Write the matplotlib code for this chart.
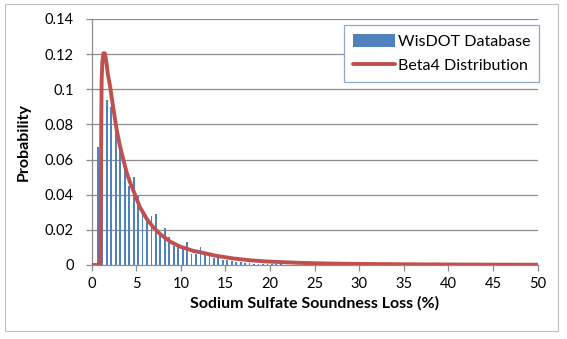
#!/usr/bin/env python

import matplotlib
matplotlib.use('Agg')
import matplotlib.pyplot as plt
import numpy as np
from matplotlib.patches import Rectangle


# WisDOT database histogram, bins every 0.5 % starting near 0.7 %
WISDOT_PROB = [
    0.067, 0.088, 0.094, 0.090, 0.078, 0.068, 0.058, 0.045, 0.050, 0.039,
    0.030, 0.027, 0.028, 0.029, 0.018, 0.021, 0.016, 0.011, 0.010, 0.009,
    0.013, 0.006, 0.006, 0.010, 0.0066, 0.005, 0.004, 0.004, 0.003, 0.003,
    0.002, 0.0019, 0.0015, 0.0012, 0.001, 0.0008, 0.0008, 0.0006, 0.0006,
    0.0004, 0.0003, 0.0003, 0.0002, 0.0002, 0.0001, 0.0001, 0.0001, 0.0,
    0.0001, 0.0,
]
BIN_START = 0.7
BIN_STEP = 0.5

# Beta4 fitted curve
BETA_X = [0, 0.97, 1.02, 1.07, 1.12, 1.2, 1.32, 1.47, 1.63, 1.8, 2.05, 2.4,
          2.8, 3.2, 3.55, 3.9, 4.3, 4.7, 5.4, 6.2, 6.9, 7.7, 8.8, 9.9,
          11.4, 12.1, 14.0, 15.9, 17.7, 19.6, 23.4, 27, 30, 35, 40, 45, 50]
BETA_Y = [0, 0, 0.03, 0.08, 0.106, 0.116, 0.1205, 0.1205, 0.116, 0.109,
          0.102, 0.090, 0.077, 0.067, 0.060, 0.053, 0.047, 0.042, 0.033,
          0.026, 0.0215, 0.0175, 0.0133, 0.0105, 0.008, 0.0073, 0.0052,
          0.0037, 0.0027, 0.002, 0.0012, 0.0008, 0.0006, 0.0004, 0.0003,
          0.0002, 0.00015]

X_TICKS = [0, 5, 10, 15, 20, 25, 30, 35, 40, 45, 50]
Y_TICKS = [0, 0.02, 0.04, 0.06, 0.08, 0.1, 0.12, 0.14]
Y_TICK_LABELS = ['0', '0.02', '0.04', '0.06', '0.08', '0.1', '0.12', '0.14']


def main():
    plt.rcParams['font.family'] = ['Lato', 'DejaVu Sans']
    plt.rcParams['font.size'] = 10

    fig = plt.figure(figsize=(5.67, 3.39), dpi=100)
    ax = fig.add_axes([0.1617, 0.2183, 0.7866, 0.7257])

    # chart area border
    fig.patches.append(Rectangle((0.009, 0.024), 0.976, 0.964,
                                 transform=fig.transFigure, fill=False,
                                 edgecolor='#bfbfbf', linewidth=0.8))

    grid_c = '#8c8c8c'
    for y in Y_TICKS[1:]:
        ax.axhline(y, color=grid_c, linewidth=0.9, zorder=0)

    bin_x = BIN_START + BIN_STEP * np.arange(len(WISDOT_PROB))
    ax.bar(bin_x, WISDOT_PROB, width=0.2, color='#4f81bd',
           label='WisDOT Database', zorder=2)
    ax.plot(BETA_X, BETA_Y, color='#c0504d', linewidth=2.8,
            solid_joinstyle='round', solid_capstyle='round',
            label='Beta4 Distribution', zorder=3)

    ax.set_xlim(0, 50)
    ax.set_ylim(0, 0.14)
    ax.set_xticks(X_TICKS)
    ax.set_yticks(Y_TICKS)
    ax.set_yticklabels(Y_TICK_LABELS)

    for side in ['top', 'right']:
        ax.spines[side].set_visible(False)
    for side in ['left', 'bottom']:
        ax.spines[side].set_color(grid_c)
        ax.spines[side].set_linewidth(0.9)
    ax.tick_params(axis='both', colors=grid_c, labelcolor='black',
                   labelsize=10.5, length=4, width=0.9, direction='out')
    ax.tick_params(axis='y', pad=9)
    ax.tick_params(axis='x', pad=5)

    ax.set_xlabel('Sodium Sulfate Soundness Loss (%)', fontweight='bold',
                  fontsize=11.5, labelpad=3)
    ax.set_ylabel('Probability', fontweight='bold', fontsize=11.5,
                  labelpad=10)

    handles, labels = ax.get_legend_handles_labels()
    order = [labels.index('WisDOT Database'),
             labels.index('Beta4 Distribution')]
    leg = ax.legend([handles[i] for i in order], [labels[i] for i in order],
                    loc='upper right', bbox_to_anchor=(1.003, 0.975),
                    fancybox=False, framealpha=1, edgecolor='#8eaacb',
                    handlelength=2.6, handleheight=0.9, borderpad=0.55,
                    labelspacing=0.55, handletextpad=0.2, borderaxespad=0,
                    fontsize=11.5)
    leg.get_frame().set_linewidth(0.9)

    fig.savefig('out.png', dpi=100)


if __name__ == '__main__':
    main()
